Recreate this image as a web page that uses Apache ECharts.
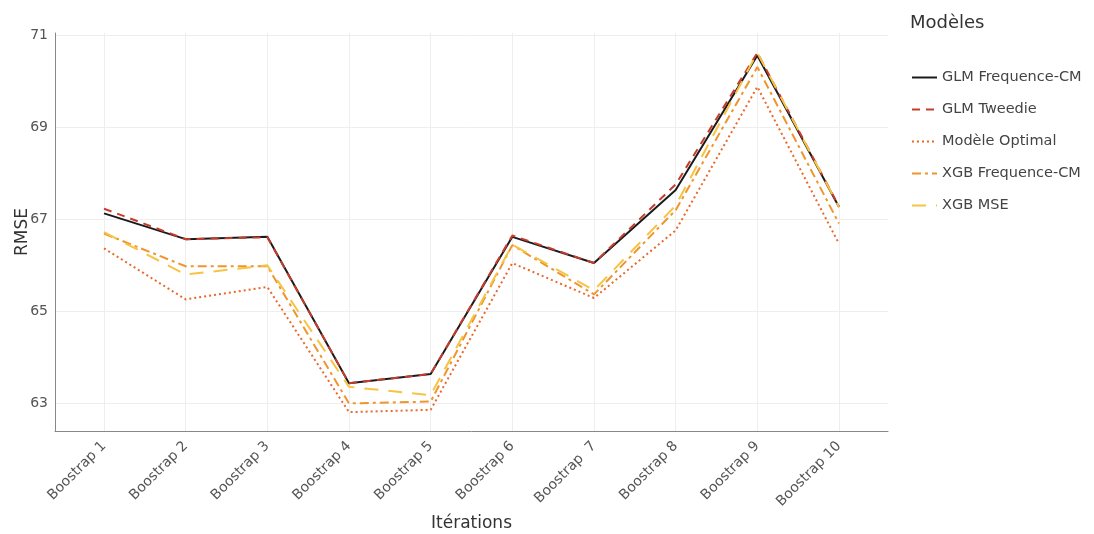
<!DOCTYPE html>
<html>
<head>
<meta charset="utf-8">
<script src="https://cdn.jsdelivr.net/npm/echarts@6/dist/echarts.min.js"></script>
<style>
html,body{margin:0;padding:0;background:#fff;}
#chart{width:1094px;height:534px;}
</style>
</head>
<body>
<div id="chart"></div>
<script>
const categories = ['Boostrap 1','Boostrap 2','Boostrap 3','Boostrap 4','Boostrap 5','Boostrap 6','Boostrap  7','Boostrap 8','Boostrap 9','Boostrap 10'];
const glmFreqCM = [67.13, 66.57, 66.62, 63.44, 63.64, 66.62, 66.05, 67.64, 70.56, 67.27];
const glmTweedie = [67.23, 66.57, 66.61, 63.44, 63.64, 66.65, 66.05, 67.76, 70.62, 67.28];
const modeleOptimal = [66.37, 65.26, 65.53, 62.81, 62.86, 66.05, 65.29, 66.76, 69.88, 66.47];
const xgbFreqCM = [66.69, 65.98, 65.98, 63.00, 63.04, 66.44, 65.37, 67.20, 70.31, 66.91];
const xgbMSE = [66.72, 65.80, 66.00, 63.36, 63.18, 66.45, 65.46, 67.30, 70.62, 67.27];
const seriesNames = ['GLM Frequence-CM','GLM Tweedie','Modèle Optimal','XGB Frequence-CM','XGB MSE'];
const yTicks = [63, 65, 67, 69, 71];

const FONT = 'DejaVu Sans';
const toPairs = arr => arr.map((v, i) => [i, v]);
const xTicks = categories.map((c, i) => i);

const styles = [
  {color:'#1a1a1a', type:'solid', width:2},
  {color:'#C63D2D', type:[8,6], width:2},
  {color:'#E8692A', type:[2,3], width:2},
  {color:'#F0952B', type:[9,4,3,4], width:2},
  {color:'#F6C445', type:[14,10], width:2}
];
const values = [glmFreqCM, glmTweedie, modeleOptimal, xgbFreqCM, xgbMSE];

const chart = echarts.init(document.getElementById('chart'), null, {renderer:'canvas'});
chart.setOption({
  animation:false,
  backgroundColor:'#fff',
  title:{
    text:'Modèles', left:905, top:9,
    textStyle:{fontFamily:FONT, fontSize:18, fontWeight:'normal', color:'#333'}
  },
  legend:{
    orient:'vertical', left:911, top:70, padding:0,
    itemWidth:25, itemHeight:14, itemGap:17,
    data:seriesNames,
    itemStyle:{color:'transparent', borderColor:'transparent', borderWidth:0, opacity:0},
    textStyle:{fontFamily:FONT, fontSize:14.5, lineHeight:14, color:'#444'}
  },
  grid:{left:55, right:206, top:33, bottom:103, outerBoundsMode:'none', containLabel:false},
  xAxis:{
    type:'value', min:-0.6, max:9.6,
    name:'Itérations', nameLocation:'middle', nameGap:84, nameMoveOverlap:false,
    nameTextStyle:{fontFamily:FONT, fontSize:17, color:'#333'},
    axisLine:{show:true, onZero:false, lineStyle:{color:'#888', width:1}},
    axisTick:{show:false, customValues:xTicks},
    axisLabel:{
      customValues:xTicks,
      rotate:45, margin:13, fontFamily:FONT, fontSize:14, color:'#555',
      formatter: v => categories[Math.round(v)] || ''
    },
    splitLine:{show:true, lineStyle:{color:'#eeeeee', width:1}}
  },
  yAxis:{
    type:'value', min:62.4, max:71.05,
    name:'RMSE', nameLocation:'middle', nameGap:24, nameMoveOverlap:false,
    nameTextStyle:{fontFamily:FONT, fontSize:17, color:'#333'},
    axisLine:{show:true, onZero:false, lineStyle:{color:'#888', width:1}},
    axisTick:{show:false, customValues:yTicks},
    axisLabel:{
      customValues:yTicks,
      fontFamily:FONT, fontSize:14, color:'#555', margin:7,
      formatter: v => String(v)
    },
    splitLine:{show:true, lineStyle:{color:'#eeeeee', width:1}}
  },
  series: seriesNames.map((name, k) => ({
    name, type:'line', data: toPairs(values[k]),
    symbol:'none', showSymbol:false,
    lineStyle:{color:styles[k].color, type:styles[k].type, width:styles[k].width},
    itemStyle:{color:styles[k].color},
    z: 2 + k
  }))
});
</script>
</body>
</html>
